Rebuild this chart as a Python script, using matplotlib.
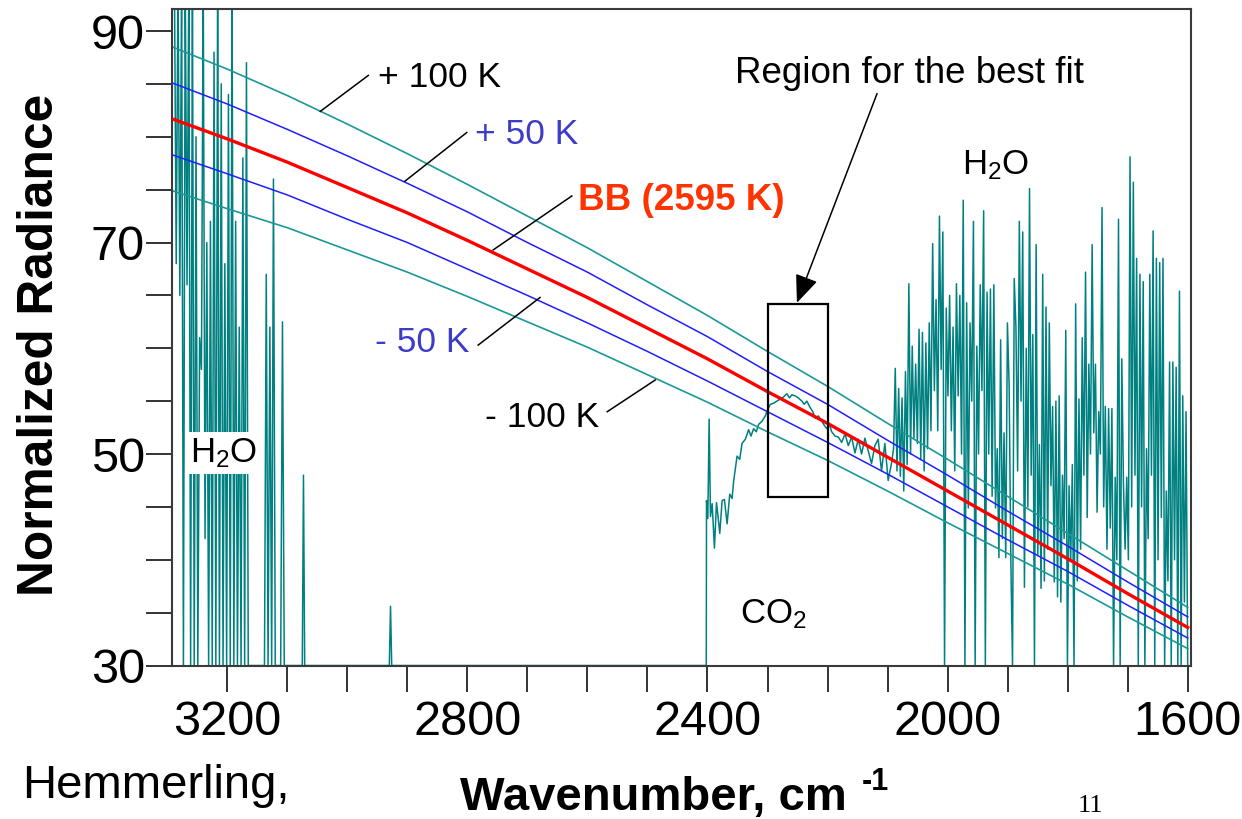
import numpy as np
import matplotlib.pyplot as plt
from matplotlib.ticker import MultipleLocator, FixedLocator
from matplotlib.patches import Rectangle

plt.rcParams['font.family'] = ['Liberation Sans', 'DejaVu Sans']
plt.rcParams['mathtext.fontset'] = 'custom'
plt.rcParams['mathtext.rm'] = 'Liberation Sans'
plt.rcParams['mathtext.it'] = 'Liberation Sans'
plt.rcParams['mathtext.bf'] = 'Liberation Sans:bold'

# Blackbody model curves
model_x = [3292, 3200, 3100, 3000, 2900, 2800, 2700, 2600, 2500,
           2400, 2300, 2200, 2100, 2000, 1900, 1800, 1700, 1600]
bb_2595 = [81.7, 79.8, 77.6, 75.2, 72.8, 70.2, 67.5, 64.8, 61.9,
           59.0, 55.9, 52.9, 49.7, 46.5, 43.3, 40.1, 36.8, 33.6]
plus_100 = [88.5, 86.4, 83.9, 81.2, 78.4, 75.5, 72.5, 69.5, 66.3,
            63.1, 59.7, 56.4, 52.9, 49.5, 46.0, 42.5, 39.0, 35.5]
plus_50 = [85.1, 83.1, 80.7, 78.2, 75.6, 72.9, 70.0, 67.2, 64.1,
           61.1, 57.8, 54.7, 51.3, 48.0, 44.6, 41.3, 37.9, 34.6]
minus_50 = [78.3, 76.5, 74.5, 72.2, 70.0, 67.5, 65.0, 62.4, 59.7,
            56.9, 54.0, 51.1, 48.1, 45.0, 41.9, 38.9, 35.7, 32.6]
minus_100 = [74.9, 73.2, 71.4, 69.3, 67.2, 64.9, 62.5, 60.1, 57.5,
             54.9, 52.1, 49.4, 46.5, 43.5, 40.6, 37.7, 34.6, 31.6]

# Measured spectrum, H2O band at high wavenumber (3 cm-1 sampling)
h2o_hi_x = np.arange(3288, 3104, -3)
h2o_hi_y = [95, 68, 95, 65, 95, 30, 95, 66, 95, 30,
            95, 30, 80, 30, 61, 58, 95, 42, 70, 30,
            72, 30, 88, 30, 95, 30, 85, 30, 68, 30,
            84, 30, 95, 30, 72, 30, 62, 30, 78, 30,
            87, 30, 30, 30, 30, 30, 30, 30, 30, 30,
            30, 67, 30, 62, 30, 76, 30, 30, 30, 30,
            62.5, 30]

# opaque region
gap_x = [3102, 3075, 3073, 3071, 2930, 2928, 2926, 2402]
gap_y = [30, 30, 48.0, 30, 30, 35.6, 30, 30]

# CO2 band edge
co2_x = [2401.6, 2399.4, 2397.2, 2395.0, 2392.2, 2388.4, 2385.0, 2382.8, 2379.5, 2375.6,
         2371.8, 2367.3, 2362.9, 2359.0, 2356.3, 2350.7, 2346.3, 2342.4, 2336.9, 2331.4,
         2327.5, 2323.1, 2318.7, 2314.8, 2309.2, 2303.7, 2299.8, 2295.4, 2289.9, 2284.3,
         2278.8, 2273.3, 2267.7, 2263.3, 2259.4, 2253.9, 2248.4, 2242.8, 2239.0, 2234.5,
         2229.0, 2224.6, 2220.7, 2215.2, 2209.6, 2204.1, 2201.3, 2196.9, 2193.0, 2187.5,
         2182.0, 2176.4, 2170.9, 2165.4, 2159.9, 2154.3, 2148.8, 2143.3, 2137.7, 2132.2,
         2126.7, 2121.1, 2115.6, 2110.1, 2104.5, 2099.0, 2093.5]
co2_y = [45.6, 43.9, 53.3, 44.1, 45.3, 41.1, 45.4, 44.3, 42.5, 45.6,
         45.7, 43.4, 46.2, 45.8, 47.5, 49.8, 49.5, 51.0, 51.4, 52.3,
         51.7, 52.4, 52.1, 52.8, 53.1, 53.6, 54.2, 54.7, 54.8, 55.0,
         55.2, 55.4, 55.7, 55.3, 55.6, 55.5, 55.3, 55.0, 54.7, 55.0,
         54.4, 54.0, 53.4, 53.6, 53.1, 52.6, 52.4, 52.8, 52.1, 51.7,
         51.6, 51.1, 51.9, 50.8, 51.6, 50.1, 51.4, 50.0, 51.5, 50.3,
         49.1, 50.8, 51.4, 48.4, 51.0, 47.5, 49.1]

# H2O band at low wavenumber
h2o_lo1_y = [50.5, 58.1, 48.4, 56.2, 47.9, 55.3, 46.5, 57.8, 49.0, 66.1,
             50.0, 60.2, 51.5, 58.5, 51.0, 61.8, 49.5, 61.5, 48.4, 60.5,
             50.5, 62.4, 52.2, 69.9, 56.0, 64.6, 52.2, 72.5, 58.0, 71.0,
             30.0, 63.8, 55.5, 65.0, 52.2, 62.0, 48.4, 66.1, 55.5, 65.0,
             50.0, 74.0, 30.0, 64.3, 44.9, 62.4, 55.0, 72.0, 30.0, 60.2,
             50.0, 66.0, 56.0, 73.0, 30.0, 65.3, 50.0, 65.6, 46.0, 66.0,
             44.9, 50.5, 40.2, 60.8, 42.0, 52.0, 40.2, 62.4, 56.5, 40.0,
             30.0, 66.6, 62.0, 48.4, 72.0, 55.0, 71.0, 37.4]
h2o_lo2_y = [60.0, 45.0, 75.1, 48.0, 61.3, 30.0, 69.8, 40.5, 50.9, 37.3,
             67.0, 38.0, 63.9, 41.0, 62.4, 47.0, 54.5, 37.9, 55.0, 36.5,
             55.5, 36.0, 48.0, 42.0, 61.7, 30.0, 47.0, 40.0, 49.0, 30.0,
             64.2, 38.0, 55.2, 41.0, 61.0, 48.0, 67.2, 44.0, 58.5, 50.0,
             69.8, 52.0, 58.5, 44.5, 54.0, 50.0, 73.3, 45.0, 54.5, 41.0,
             54.3, 43.0, 54.3, 30.0, 47.8, 40.0, 72.2, 30.0, 59.0, 47.2,
             41.0, 47.8, 40.0, 78.1, 45.0, 75.7, 48.0, 68.5, 30.0, 67.0,
             45.0, 66.3, 30.0, 50.5, 42.0, 67.0, 48.0, 71.1, 30.0, 68.5,
             40.0, 68.1, 44.0, 68.5, 30.0, 46.5, 38.0, 58.7, 30.0, 58.7,
             40.0, 58.2, 30.0, 65.4, 30.0, 55.5, 36.0, 54.0, 30.0]
h2o_lo1_x = np.linspace(2090, 1872, len(h2o_lo1_y))
h2o_lo2_x = np.linspace(1869, 1600, len(h2o_lo2_y))

spec_x = np.concatenate([h2o_hi_x, gap_x, co2_x, h2o_lo1_x, h2o_lo2_x])
spec_y = np.concatenate([h2o_hi_y, gap_y, co2_y, h2o_lo1_y, h2o_lo2_y])

fig = plt.figure(figsize=(12.42, 8.19), dpi=100)
ax = fig.add_axes([0.1385, 0.1874, 0.8202, 0.8016])

teal = '#008080'
ax.plot(spec_x, spec_y, color=teal, lw=1.1, zorder=1)
ax.plot(model_x, plus_100, color='#1a9898', lw=1.2, zorder=2)
ax.plot(model_x, minus_100, color='#1a9898', lw=1.2, zorder=2)
ax.plot(model_x, plus_50, color='#1e1eff', lw=1.1, zorder=3)
ax.plot(model_x, minus_50, color='#1e1eff', lw=1.1, zorder=3)
ax.plot(model_x, bb_2595, color='#ff0000', lw=2.4, zorder=4)

ax.set_xlim(3292, 1595)
ax.set_ylim(30, 92.08)

ax.xaxis.set_major_locator(MultipleLocator(400))
ax.xaxis.set_minor_locator(MultipleLocator(100))
ax.yaxis.set_major_locator(FixedLocator([30, 50, 70, 90]))
ax.yaxis.set_minor_locator(MultipleLocator(5))
ax.tick_params(which='both', direction='out', length=18.5, width=1.4, color='#333333')
ax.tick_params(axis='x', labelsize=35, pad=6)
ax.tick_params(axis='y', labelsize=35, pad=1)
for s in ax.spines.values():
    s.set_linewidth(1.5)
    s.set_color('#3a3a3a')

# leader lines + labels
def label(txt, x, y, lx, ly, color='black', weight='normal', size=25.5):
    ax.plot(lx, ly, color='black', lw=1.1, zorder=5)
    ax.text(x, y, txt, color=color, fontsize=size, fontweight=weight, va='center', ha='left', zorder=6)

label('+ 100 K', 2949, 85.6, [3045, 2965], [82.4, 85.8])
label('+ 50 K', 2787, 80.2, [2904, 2801], [75.8, 80.4], color='#3c3cc8')
label('BB (2595 K)', 2616, 74.0, [2757, 2626], [69.3, 74.4], color='#ff3300', weight='bold', size=26.5)
label('- 50 K', 2954, 60.5, [2782, 2679], [60.3, 64.8], color='#3c3cc8')
label('- 100 K', 2771, 53.5, [2567, 2487], [54.0, 57.0])

ax.add_patch(Rectangle((2299, 45.9), -100, 18.3, fill=False, ec='black', lw=1.6, zorder=6))
ax.annotate('Region for the best fit', xy=(2251, 64.3), xytext=(2354, 86.0),
            fontsize=26.5, va='center', ha='left', zorder=6,
            arrowprops=dict(arrowstyle='-|>,head_length=0.65,head_width=0.27', color='black',
                            lw=1.1, shrinkA=0, shrinkB=0, relpos=(0.41, 0.0)))

ax.text(3262, 50.1, 'H$_2$O', fontsize=25, va='center', ha='left', zorder=6,
        bbox=dict(fc='white', ec='none', pad=3))
ax.text(1976, 77.3, 'H$_2$O', fontsize=25, va='center', ha='left', zorder=6)
ax.text(2346, 34.9, 'CO$_2$', fontsize=25, va='center', ha='left', zorder=6)

fig.text(40 / 1242, 1 - 345 / 819, 'Normalized Radiance', rotation=90, fontsize=35.7,
         fontweight='bold', ha='center', va='center')
fig.text(460 / 1242, 1 - 810 / 819, 'Wavenumber, cm', fontsize=34,
         fontweight='bold', ha='left', va='baseline')
fig.text(862 / 1242, 1 - 790 / 819, '-1', fontsize=22,
         fontweight='bold', ha='left', va='baseline')
fig.text(22 / 1242, 1 - 798 / 819, 'Hemmerling,', fontsize=34, ha='left', va='baseline')
fig.text(1078 / 1242, 1 - 812 / 819, '11', fontsize=19, family='Liberation Serif',
         ha='left', va='baseline')

fig.savefig('out.png', dpi=100)
